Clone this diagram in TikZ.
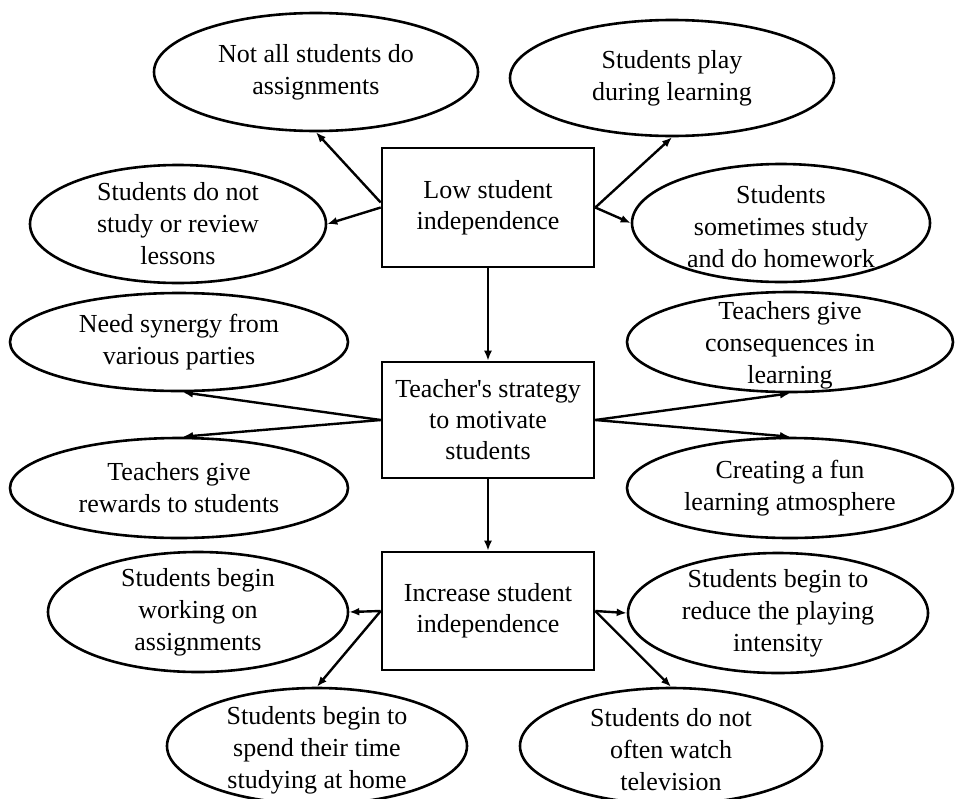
\documentclass[tikz,border=0pt]{standalone}
\usepackage{fontspec}
\setmainfont[Ligatures=TeXOff]{Liberation Serif}
\usetikzlibrary{shapes.geometric,arrows.meta}
\begin{document}
\begin{tikzpicture}[x=1pt,y=-1pt,
  ell/.style={draw,ellipse,line width=2.6pt,inner sep=0pt},
  boxnode/.style={draw,rectangle,line width=2.6pt,minimum width=212pt,inner sep=0pt,align=center,font=\fontsize{26}{31}\selectfont},
  txt/.style={align=center,inner sep=0pt,font=\fontsize{26}{32}\selectfont},
  arr/.style={line width=2.4pt,-{Latex[length=10pt,width=8pt]}}]
\useasboundingbox (0,0) rectangle (955,798);
% boxes
\node[boxnode,minimum height=119pt] (b1) at (488,207.5) {Low student\\independence};
\node[boxnode,minimum height=116pt] (b2) at (488,420) {Teacher's strategy\\to motivate\\students};
\node[boxnode,minimum height=118pt] (b3) at (488,611) {Increase student\\independence};
% ellipses
\node[ell,minimum width=324pt,minimum height=118pt] (e1) at (316,72) {};
\node[txt] (t1) at (e1) {Not all students do\\assignments};
\node[ell,minimum width=324pt,minimum height=116pt] (e2) at (672,78) {};
\node[txt] (t2) at (e2) {Students play\\during learning};
\node[ell,minimum width=296pt,minimum height=118pt] (e3) at (178,224) {};
\node[txt] (t3) at (e3) {Students do not\\study or review\\lessons};
\node[ell,minimum width=298pt,minimum height=118pt] (e4) at (781,223) {};
\node[txt] (t4) at ([yshift=-4pt]e4.center) {Students\\sometimes study\\and do homework};
\node[ell,minimum width=338pt,minimum height=98pt] (e8) at (179,342) {};
\node[txt] (t8) at (e8) {Need synergy from\\various parties};
\node[ell,minimum width=338pt,minimum height=100pt] (e9) at (179,488) {};
\node[txt] (t9) at (e9) {Teachers give\\rewards to students};
\node[ell,minimum width=326pt,minimum height=100pt] (e10) at (790,342) {};
\node[txt] (t10) at ([yshift=-3pt]e10.center) {Teachers give\\consequences in\\learning};
\node[ell,minimum width=326pt,minimum height=100pt] (e11) at (790,488) {};
\node[txt] (t11) at (e11) {Creating a fun\\learning atmosphere};
\node[ell,minimum width=300pt,minimum height=120pt] (e12) at (198,612) {};
\node[txt] (t12) at (e12) {Students begin\\working on\\assignments};
\node[ell,minimum width=300pt,minimum height=116pt] (e13) at (317,746) {};
\node[txt] (t13) at ([yshift=-4pt]e13.center) {Students begin to\\spend their time\\studying at home};
\node[ell,minimum width=300pt,minimum height=120pt] (e14) at (778,613) {};
\node[txt] (t14) at (e14) {Students begin to\\reduce the playing\\intensity};
\node[ell,minimum width=302pt,minimum height=116pt] (e15) at (671,746) {};
\node[txt] (t15) at ([yshift=-4pt]e15.center) {Students do not\\often watch\\television};
% arrows
\draw[arr] ([yshift=5pt]b1.west) -- (e1.south);
\draw[arr] (b1.west) -- (e3.east);
\draw[arr] (b1.east) -- (e2.south);
\draw[arr] (b1.east) -- (e4.west);
\draw[arr] (b1.south) -- (b2.north);
\draw[arr] (b2.west) -- ([xshift=4pt]e8.south);
\draw[arr] (b2.west) -- ([xshift=4pt]e9.north);
\draw[arr] (b2.east) -- (e10.south);
\draw[arr] (b2.east) -- (e11.north);
\draw[arr] (b2.south) -- (b3.north);
\draw[arr] (b3.west) -- (e12.east);
\draw[arr] (b3.west) -- (e13.north);
\draw[arr] (b3.east) -- (e14.west);
\draw[arr] (b3.east) -- (e15.north);
\end{tikzpicture}
\end{document}
